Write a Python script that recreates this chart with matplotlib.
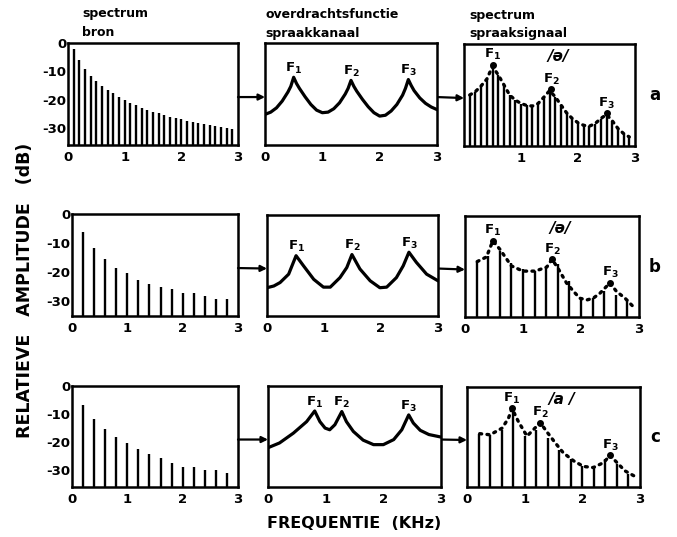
import matplotlib
matplotlib.use("Agg")
import matplotlib.pyplot as plt

plt.rcParams['font.family'] = ['DejaVu Sans']
plt.rcParams['font.weight'] = 'bold'
plt.rcParams['axes.unicode_minus'] = False

# harmonic frequencies (kHz)
harm_100 = [0.1, 0.2, 0.3, 0.4, 0.5, 0.6, 0.7, 0.8, 0.9, 1.0,
            1.1, 1.2, 1.3, 1.4, 1.5, 1.6, 1.7, 1.8, 1.9, 2.0,
            2.1, 2.2, 2.3, 2.4, 2.5, 2.6, 2.7, 2.8, 2.9]
harm_200 = [0.2, 0.4, 0.6, 0.8, 1.0, 1.2, 1.4, 1.6, 1.8, 2.0, 2.2, 2.4, 2.6, 2.8]

# source spectra (dB)
src_a_db = [-2, -6, -9, -11.5, -13.5, -15, -16.5, -17.8, -19, -20,
            -21, -22, -22.8, -23.5, -24.2, -24.8, -25.5, -26, -26.5, -27,
            -27.5, -27.8, -28.2, -28.6, -29, -29.3, -29.6, -30, -30.2]
src_b_db = [-6.1, -11.8, -15.5, -18.6, -20.3, -22.6, -23.9, -25, -25.6, -27, -27, -28.2, -29, -29.3]
src_c_db = [-6.7, -11.7, -15.2, -18, -20.2, -22.6, -24.3, -25.6, -27.3, -28.9, -29, -29.8, -29.9, -31]

# vocal tract transfer functions
filt_a_freq = [0.0, 0.1, 0.2, 0.3, 0.4, 0.45, 0.5, 0.55, 0.6, 0.7, 0.8, 0.9, 1.0,
               1.1, 1.2, 1.3, 1.4, 1.45, 1.5, 1.55, 1.6, 1.7, 1.8, 1.9, 2.0,
               2.1, 2.2, 2.3, 2.4, 2.45, 2.5, 2.55, 2.6, 2.7, 2.8, 2.9, 3.0]
filt_a_db = [-25.2, -24.4, -22.9, -20.5, -17.3, -15.3, -12.1, -14.3, -16.0, -19.0, -21.7, -23.7, -24.6,
             -24.4, -23.2, -21.1, -18.0, -16.0, -13.2, -15.3, -17.0, -19.9, -22.5, -24.6, -25.8,
             -25.5, -24.0, -21.7, -18.4, -16.0, -12.9, -15.0, -16.8, -19.4, -21.3, -22.6, -23.5]
filt_b_freq = [0.0, 0.12, 0.23, 0.38, 0.51, 0.64, 0.82, 0.99, 1.11, 1.28, 1.40, 1.49,
               1.63, 1.81, 1.98, 2.10, 2.27, 2.39, 2.49, 2.62, 2.80, 3.0]
filt_b_db = [-25.2, -24.6, -23.4, -20.5, -14.1, -17.6, -22.3, -25.0, -25.0, -21.7, -18.2, -13.7,
             -18.7, -22.8, -25.2, -25.0, -21.7, -17.6, -12.9, -16.4, -20.5, -22.8]
filt_c_freq = [0.0, 0.2, 0.44, 0.67, 0.81, 0.9, 0.99, 1.07, 1.16, 1.28, 1.36, 1.48,
               1.65, 1.83, 2.0, 2.18, 2.32, 2.44, 2.52, 2.64, 2.79, 3.0]
filt_c_db = [-22.0, -20.3, -16.8, -12.7, -8.9, -12.7, -15.0, -15.6, -13.8, -9.1, -12.7, -16.2,
             -19.3, -20.9, -20.9, -19.1, -15.6, -10.3, -13.2, -15.8, -17.3, -18.2]
filt_a_peaks = [0.5, 1.5, 2.5]
filt_c_peaks = [0.81, 1.28, 2.44]

# output spectra (harmonic amplitudes)
out_a_db = [-18.0, -16.8, -14.8, -12.4, -7.9, -10.9, -14.4, -18.0, -19.8, -21.0,
            -21.7, -21.9, -21.0, -18.8, -16.5, -18.6, -21.5, -24.3, -26.3, -27.8,
            -28.7, -29.0, -28.1, -26.3, -24.9, -27.1, -29.8, -31.6, -32.8]
out_b_db = [-15.8, -13.8, -12.0, -16.2, -18.2, -19.1, -17.7, -16.8, -22.5, -28.2, -28.5, -26.1, -27.5, -28.7]
out_c_db = [-16.8, -17.2, -15.4, -8.3, -17.5, -15.4, -18.3, -22.5, -26.0, -28.4, -29.0, -26.0, -27.8, -31.4]

# dotted envelopes
env_b_freq = [0.21, 0.37, 0.48, 0.60, 0.80, 1.0, 1.21, 1.41, 1.5, 1.6, 1.75, 1.87, 1.98,
              2.10, 2.21, 2.33, 2.44, 2.50, 2.61, 2.76, 2.90]
env_b_db = [-15.8, -14.2, -8.6, -11.5, -17.3, -19.1, -19.1, -17.7, -15.0, -18.0, -23.2, -26.1, -28.5,
            -29.1, -28.5, -26.7, -24.4, -23.2, -26.1, -28.5, -31.4]
env_c_freq = [0.22, 0.4, 0.61, 0.72, 0.78, 0.89, 1.04, 1.15, 1.27, 1.38, 1.53, 1.67, 1.85,
              2.02, 2.19, 2.37, 2.48, 2.6, 2.74, 2.94]
env_c_db = [-16.8, -17.2, -14.8, -11.2, -7.7, -12.4, -17.7, -15.4, -12.8, -16.0, -20.1, -23.7, -26.6,
            -28.6, -29.0, -27.2, -24.6, -27.2, -30.2, -32.5]

# formant peak dots on the output spectra
dots_a = ([0.5, 1.53, 2.5], [-7.3, -16.0, -24.5])
dots_b = ([0.48, 1.5, 2.5], [-8.6, -15.0, -23.2])
dots_c = ([0.78, 1.27, 2.48], [-7.7, -12.8, -24.6])

vowels = ['/ə/', '/ə/', '/a /']
row_letters = ['a', 'b', 'c']

W, H = 677, 537
fig = plt.figure(figsize=(W / 100, H / 100), dpi=100)


def rect(x0, x1, y0, y1):
    return [x0 / W, 1 - y1 / H, (x1 - x0) / W, (y1 - y0) / H]


boxes = [
    [(68, 238, 43, 145), (265, 437, 43, 145), (464, 635, 44, 146)],
    [(72, 238, 214, 316), (267, 438, 215, 316), (465, 639, 216, 317)],
    [(72, 238, 386, 487), (268, 441, 386, 487), (467, 640, 387, 487)],
]
ymins = [-36, -35, -36]
LW = 1.8


def frame(ax, ymin, xticks):
    ax.set_xlim(0, 3)
    ax.set_ylim(ymin, 0)
    for s in ax.spines.values():
        s.set_linewidth(LW)
    ax.set_xticks(xticks)
    ax.set_xticklabels([str(t) for t in xticks])
    ax.tick_params(length=0, labelsize=9.5, pad=4)
    ax.set_yticks([])


def flabel(ax, x, y, n, dy=2):
    ax.annotate('F$_{%d}$' % n, (x, y), xytext=(0, dy), textcoords='offset points',
                ha='center', va='bottom', fontsize=9.5, fontweight='bold')


sources = [(harm_100, src_a_db), (harm_200, src_b_db), (harm_200, src_c_db)]
filters = [(filt_a_freq, filt_a_db), (filt_b_freq, filt_b_db), (filt_c_freq, filt_c_db)]
outputs = [(harm_100, out_a_db), (harm_200, out_b_db), (harm_200, out_c_db)]
envs = [(harm_100, out_a_db), (env_b_freq, env_b_db), (env_c_freq, env_c_db)]
dots = [dots_a, dots_b, dots_c]

for r in range(3):
    ymin = ymins[r]
    axL = fig.add_axes(rect(*boxes[r][0]))
    axM = fig.add_axes(rect(*boxes[r][1]))
    axR = fig.add_axes(rect(*boxes[r][2]))

    # source
    frame(axL, ymin, [0, 1, 2, 3])
    axL.set_yticks([0, -10, -20, -30])
    axL.set_yticklabels(['0', '-10', '-20', '-30'])
    axL.tick_params(axis='y', pad=1)
    f, d = sources[r]
    axL.vlines(f, ymin, d, color='black', lw=1.7)

    # filter
    frame(axM, ymin, [0, 1, 2, 3])
    f, d = filters[r]
    axM.plot(f, d, color='black', lw=2.3, solid_joinstyle='round')
    peaks = filt_c_peaks if r == 2 else filt_a_peaks
    for i, p in enumerate(peaks):
        j = min(range(len(f)), key=lambda k: abs(f[k] - p))
        flabel(axM, f[j], d[j], i + 1, dy=1)

    # output
    frame(axR, ymin, [1, 2, 3] if r == 0 else [0, 1, 2, 3])
    f, d = outputs[r]
    axR.vlines(f, ymin, d, color='black', lw=1.7)
    ef, ed = envs[r]
    axR.plot(ef, ed, color='black', lw=2.4, linestyle=(0, (0.6, 1.6)),
             dash_capstyle='round')
    px, py = dots[r]
    axR.plot(px, py, 'o', color='black', ms=4)
    for i in range(3):
        flabel(axR, px[i], py[i], i + 1, dy=2)
    axR.text(1.65, -4.5, vowels[r], ha='center', va='center', fontsize=11,
             fontweight='bold', style='italic')

    # arrows between panels
    for a0, a1 in ((axL, axM), (axM, axR)):
        axL.annotate('', xy=(0, 0.47), xycoords=a1.transAxes,
                     xytext=(1, 0.47), textcoords=a0.transAxes,
                     arrowprops=dict(arrowstyle='-|>', color='black', lw=1.6,
                                     mutation_scale=9, shrinkA=0, shrinkB=0))

    cy = (boxes[r][2][2] + boxes[r][2][3]) / 2
    fig.text(655 / W, 1 - cy / H, row_letters[r], ha='center', va='center',
             fontsize=12, fontweight='bold')

# panel titles
fig.text(82 / W, 1 - 14 / H, 'spectrum', ha='left', va='center', fontsize=9, fontweight='bold')
fig.text(82 / W, 1 - 32 / H, 'bron', ha='left', va='center', fontsize=9, fontweight='bold')
fig.text(265 / W, 1 - 15 / H, 'overdrachtsfunctie', ha='left', va='center', fontsize=9, fontweight='bold')
fig.text(265 / W, 1 - 33 / H, 'spraakkanaal', ha='left', va='center', fontsize=9, fontweight='bold')
fig.text(469 / W, 1 - 15 / H, 'spectrum', ha='left', va='center', fontsize=9, fontweight='bold')
fig.text(469 / W, 1 - 34 / H, 'spraaksignaal', ha='left', va='center', fontsize=9, fontweight='bold')

fig.text(25 / W, 1 - 290 / H, 'RELATIEVE   AMPLITUDE   (dB)', rotation=90,
         ha='center', va='center', fontsize=12.5, fontweight='bold')
fig.text(354 / W, 1 - 523 / H, 'FREQUENTIE  (KHz)', ha='center', va='center',
         fontsize=11.5, fontweight='bold')

fig.savefig('out.png', dpi=100)
